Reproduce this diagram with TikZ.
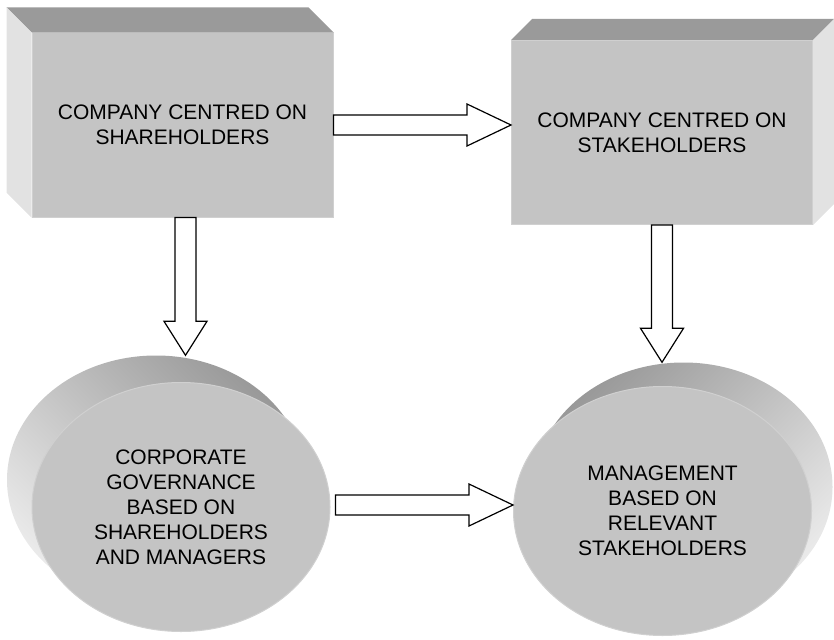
\documentclass[tikz,border=0pt]{standalone}
\usepackage{fontspec}
\setmainfont{Liberation Sans}
\usetikzlibrary{shapes.geometric,calc}

\definecolor{facegray}{HTML}{C4C4C4}
\definecolor{topgray}{HTML}{9A9A9A}
\definecolor{sidegray}{HTML}{E2E2E2}
\definecolor{rimgray}{HTML}{D0D0D0}
\definecolor{shadegray}{HTML}{999999}
\definecolor{lightgray}{HTML}{EAEAEA}

\tikzstyle{face} = [rectangle, fill=facegray, draw=rimgray, line width=1pt, minimum width=301pt, minimum height=184pt, inner sep=0pt, align=center, font=\fontsize{21}{25}\selectfont]
\tikzstyle{disc} = [ellipse, fill=facegray, draw=rimgray, line width=1pt, minimum width=298pt, minimum height=249pt, inner sep=0pt, align=center, font=\fontsize{21}{25}\selectfont]
\tikzstyle{discback} = [ellipse, minimum width=298pt, minimum height=249pt, inner sep=0pt]
\tikzstyle{blockarrow} = [draw=black, fill=white, line width=1.2pt, line join=miter]

\begin{document}
\begin{tikzpicture}[x=1pt,y=-1pt]
		\useasboundingbox (0,0) rectangle (834,639);

		%boxes
		\node[face](share) at (182.5,125) {COMPANY CENTRED ON\\SHAREHOLDERS};
		\fill[topgray] (share.north west) -- (share.north east) -- ++(-25,-25) -- ($(share.north west)+(-25,-25)$) -- cycle;
		\fill[sidegray] (share.north west) -- ++(-25,-25) -- ($(share.south west)+(-25,-25)$) -- (share.south west) -- cycle;
		\node[face](stake) at (662,132.5) {COMPANY CENTRED ON\\STAKEHOLDERS};
		\fill[topgray] (stake.north west) -- (stake.north east) -- ++(21,-21) -- ($(stake.north west)+(21,-21)$) -- cycle;
		\fill[sidegray] (stake.north east) -- ++(21,-21) -- ($(stake.south east)+(21,-21)$) -- (stake.south east) -- cycle;

		%discs
		\node[discback, top color=shadegray, bottom color=lightgray, shading angle=-45](governback) at (156,480) {};
		\node[disc](govern) at ($(governback)+(25,27)$) {CORPORATE\\GOVERNANCE\\BASED ON\\SHAREHOLDERS\\AND MANAGERS};
		\node[discback, top color=shadegray, bottom color=lightgray, shading angle=45](manageback) at (683.5,487) {};
		\node[disc](manage) at ($(manageback)+(-21,24)$) {MANAGEMENT\\BASED ON\\RELEVANT\\STAKEHOLDERS};

		%arrows
		\coordinate (a1) at (share.east);
		\coordinate (t1) at (share.east -| stake.west);
		\draw[blockarrow] ($(a1)+(0,-10)$) -- ($(t1)+(-44,-10)$) -- ($(t1)+(-44,-21)$) -- (t1) -- ($(t1)+(-44,21)$) -- ($(t1)+(-44,10)$) -- ($(a1)+(0,10)$) -- cycle;
		\coordinate (a2) at ($(share.south)+(3,0)$);
		\coordinate (t2) at (a2 |- governback.north);
		\draw[blockarrow] ($(a2)+(-10.5,0)$) -- ($(t2)+(-10.5,-34)$) -- ($(t2)+(-21.5,-34)$) -- (t2) -- ($(t2)+(21.5,-34)$) -- ($(t2)+(10.5,-34)$) -- ($(a2)+(10.5,0)$) -- cycle;
		\coordinate (a3) at (stake.south);
		\coordinate (t3) at (stake.south |- manageback.north);
		\draw[blockarrow] ($(a3)+(-10.5,0)$) -- ($(t3)+(-10.5,-34)$) -- ($(t3)+(-21.5,-34)$) -- (t3) -- ($(t3)+(21.5,-34)$) -- ($(t3)+(10.5,-34)$) -- ($(a3)+(10.5,0)$) -- cycle;
		\coordinate (a4) at ($(govern.east)+(5,-2)$);
		\coordinate (t4) at (a4 -| manage.west);
		\draw[blockarrow] ($(a4)+(0,-10)$) -- ($(t4)+(-44,-10)$) -- ($(t4)+(-44,-21)$) -- (t4) -- ($(t4)+(-44,21)$) -- ($(t4)+(-44,10)$) -- ($(a4)+(0,10)$) -- cycle;
\end{tikzpicture}
\end{document}
